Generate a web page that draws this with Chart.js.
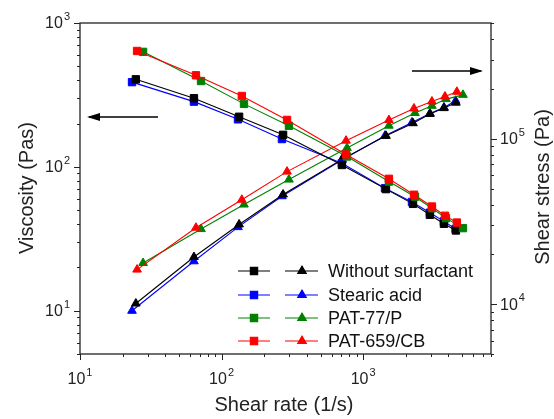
<!DOCTYPE html>
<html>
<head>
<meta charset="utf-8">
<script src="https://cdn.jsdelivr.net/npm/chart.js@4/dist/chart.umd.min.js"></script>
<style>
  body { margin: 0; background: #fff; }
  #wrap { width: 554px; height: 419px; }
</style>
</head>
<body>
<div id="wrap"><canvas id="flowChart" width="554" height="419"></canvas></div>
<script>
// values
const seriesNames = ['Without surfactant', 'Stearic acid', 'PAT-77/P', 'PAT-659/CB'];

const rateBlack = [24.8, 63.8, 133, 272, 708, 1450, 2250, 2960, 3720, 4520];
const viscBlack = [406, 300, 223, 167, 103, 70, 55.3, 46.4, 40.2, 36.1];
const stressBlack = [10090, 19280, 30330, 46000, 75000, 104000, 124000, 141000, 153000, 165000];

const rateBlue = [23.3, 63.8, 130.6, 267, 708, 1426, 2213, 2964, 3723, 4500];
const viscBlue = [388, 284, 214, 156, 106, 71, 57, 48, 41.8, 37];
const stressBlue = [9120, 18160, 29220, 44900, 74400, 104200, 125400, 142200, 154500, 169500];

const rateGreen = [27.9, 71.6, 144, 299, 769, 1520, 2323, 3061, 3846, 5070];
const viscGreen = [630, 395, 274, 193, 118, 79, 62, 51.5, 44, 37.5];
const stressGreen = [17740, 28430, 40000, 56600, 87900, 119800, 142900, 158000, 173400, 184000];

const rateRed = [25.3, 65.9, 139, 290, 757, 1520, 2286, 3061, 3784, 4592];
const viscRed = [639, 433, 311, 212, 122, 82.6, 64, 53, 45.7, 41];
const stressRed = [16180, 28970, 42760, 63240, 97300, 129600, 152300, 167800, 179900, 192000];

const xRange = [10, 8000];
const viscRange = [5, 1000];
const stressRange = [5000, 500000];
const xTickExps = [1, 2, 3];
const viscTickExps = [1, 2, 3];
const stressTickExps = [4, 5];

const colors = ['#000000', '#0000ff', '#008000', '#ff0000'];
const FONT = 'Arial, "Liberation Sans", sans-serif';

function pts(xs, ys) {
    return xs.map((x, i) => ({ x: x, y: ys[i] }));
}

function makeSet(label, data, color, axis, style) {
    return {
        label: label,
        data: data,
        yAxisID: axis,
        borderColor: color,
        backgroundColor: color,
        pointBackgroundColor: color,
        pointBorderColor: color,
        borderWidth: 1.1,
        pointBorderWidth: 1,
        pointStyle: style,
        pointRadius: style === 'rect' ? 5.2 : 5,
        showLine: true,
        tension: 0
    };
}

// red first so it sits on top, like the original
const order = [3, 2, 0, 1];
const allRates = [rateBlack, rateBlue, rateGreen, rateRed];
const allVisc = [viscBlack, viscBlue, viscGreen, viscRed];
const allStress = [stressBlack, stressBlue, stressGreen, stressRed];

const datasets = [];
order.forEach(i => {
    datasets.push(makeSet(seriesNames[i] + ' viscosity', pts(allRates[i], allVisc[i]), colors[i], 'y', 'rect'));
});
order.forEach(i => {
    datasets.push(makeSet(seriesNames[i] + ' stress', pts(allRates[i], allStress[i]), colors[i], 'y2', 'triangle'));
});

function logTicks(min, max) {
    const out = [];
    for (let e = Math.floor(Math.log10(min)); e <= Math.ceil(Math.log10(max)); e++) {
        for (let m = 1; m <= 9; m++) {
            const v = m * Math.pow(10, e);
            if (v >= min * 0.999 && v <= max * 1.001) out.push({ v: v, major: m === 1 });
        }
    }
    return out;
}

// "10" with a raised exponent
function powerLabel(ctx, exp, x, y, align) {
    ctx.font = '16px ' + FONT;
    const wBase = ctx.measureText('10').width;
    ctx.font = '11px ' + FONT;
    const wExp = ctx.measureText(String(exp)).width;
    const total = wBase + wExp + 1;
    let left = x;
    if (align === 'center') left = x - total / 2;
    if (align === 'right') left = x - total;
    ctx.textAlign = 'left';
    ctx.textBaseline = 'middle';
    ctx.font = '16px ' + FONT;
    ctx.fillText('10', left, y);
    ctx.font = '11px ' + FONT;
    ctx.fillText(String(exp), left + wBase + 1, y - 7);
}

function arrow(ctx, x1, y1, x2, y2) {
    ctx.beginPath();
    ctx.moveTo(x1, y1);
    ctx.lineTo(x2, y2);
    ctx.stroke();
    const dir = Math.sign(x2 - x1);
    ctx.beginPath();
    ctx.moveTo(x2 + dir * 2, y2);
    ctx.lineTo(x2 - dir * 11, y2 - 4);
    ctx.lineTo(x2 - dir * 11, y2 + 4);
    ctx.closePath();
    ctx.fill();
}

const decorations = {
    id: 'decorations',
    afterDraw(chart) {
        const ctx = chart.ctx;
        const a = chart.chartArea;
        const sx = chart.scales.x, sy = chart.scales.y, sy2 = chart.scales.y2;
        ctx.save();
        ctx.strokeStyle = '#222';
        ctx.fillStyle = '#222';
        ctx.lineWidth = 1.3;
        ctx.strokeRect(a.left, a.top, a.right - a.left, a.bottom - a.top);

        ctx.lineWidth = 1;
        ctx.beginPath();
        logTicks(xRange[0], xRange[1]).forEach(t => {
            const px = Math.round(sx.getPixelForValue(t.v)) + 0.5;
            ctx.moveTo(px, a.bottom);
            ctx.lineTo(px, a.bottom + (t.major ? 6 : 3));
        });
        logTicks(viscRange[0], viscRange[1]).forEach(t => {
            const py = Math.round(sy.getPixelForValue(t.v)) + 0.5;
            ctx.moveTo(a.left, py);
            ctx.lineTo(a.left - (t.major ? 6 : 3), py);
        });
        logTicks(stressRange[0], stressRange[1]).forEach(t => {
            const py = Math.round(sy2.getPixelForValue(t.v)) + 0.5;
            ctx.moveTo(a.right, py);
            ctx.lineTo(a.right + (t.major ? 6 : 3), py);
        });
        ctx.stroke();

        xTickExps.forEach(e => powerLabel(ctx, e, sx.getPixelForValue(Math.pow(10, e)), a.bottom + 26, 'center'));
        viscTickExps.forEach(e => powerLabel(ctx, e, a.left - 10, sy.getPixelForValue(Math.pow(10, e)) + 1, 'right'));
        stressTickExps.forEach(e => powerLabel(ctx, e, a.right + 9, sy2.getPixelForValue(Math.pow(10, e)) + 1, 'left'));

        // axis titles
        ctx.font = '20px ' + FONT;
        ctx.textAlign = 'center';
        ctx.textBaseline = 'middle';
        ctx.fillText('Shear rate (1/s)', 284, 405);
        ctx.save();
        ctx.translate(27, 188);
        ctx.rotate(-Math.PI / 2);
        ctx.fillText('Viscosity (Pas)', 0, 0);
        ctx.restore();
        ctx.save();
        ctx.translate(543, 187);
        ctx.rotate(-Math.PI / 2);
        ctx.fillText('Shear stress (Pa)', 0, 0);
        ctx.restore();

        // arrows showing which axis each family belongs to
        ctx.fillStyle = '#000';
        ctx.strokeStyle = '#000';
        ctx.lineWidth = 1.5;
        arrow(ctx, 158, 117, 89, 117);
        arrow(ctx, 412, 71, 481, 71);

        // legend: square column + triangle column
        const rows = [271, 295, 318, 341];
        rows.forEach((ry, i) => {
            ctx.strokeStyle = colors[i];
            ctx.fillStyle = colors[i];
            ctx.lineWidth = 1.1;
            ctx.beginPath();
            ctx.moveTo(238, ry); ctx.lineTo(270, ry);
            ctx.moveTo(285, ry); ctx.lineTo(318, ry);
            ctx.stroke();
            Chart.helpers.drawPoint(ctx, { pointStyle: 'rect', radius: 5.2, borderWidth: 1 }, 254, ry);
            ctx.fill();
            Chart.helpers.drawPoint(ctx, { pointStyle: 'triangle', radius: 5, borderWidth: 1 }, 302, ry);
            ctx.fill();
            ctx.fillStyle = '#111';
            ctx.font = '18px ' + FONT;
            ctx.textAlign = 'left';
            ctx.textBaseline = 'middle';
            ctx.fillText(seriesNames[i], 328, ry + 1);
        });
        ctx.restore();
    }
};

new Chart(document.getElementById('flowChart'), {
    type: 'line',
    data: { datasets: datasets },
    options: {
        responsive: false,
        animation: false,
        layout: { padding: { top: 23, left: 0, right: 0, bottom: 0 } },
        plugins: { legend: { display: false }, tooltip: { enabled: false } },
        scales: {
            x: {
                type: 'logarithmic', position: 'bottom',
                min: xRange[0], max: xRange[1],
                ticks: { display: false }, grid: { display: false }, border: { display: false },
                afterFit: s => { s.height = 65; }
            },
            y: {
                type: 'logarithmic', position: 'left',
                min: viscRange[0], max: viscRange[1],
                ticks: { display: false }, grid: { display: false }, border: { display: false },
                afterFit: s => { s.width = 80; }
            },
            y2: {
                type: 'logarithmic', position: 'right',
                min: stressRange[0], max: stressRange[1],
                ticks: { display: false }, grid: { display: false }, border: { display: false },
                afterFit: s => { s.width = 63; }
            }
        }
    },
    plugins: [decorations]
});
</script>
</body>
</html>
